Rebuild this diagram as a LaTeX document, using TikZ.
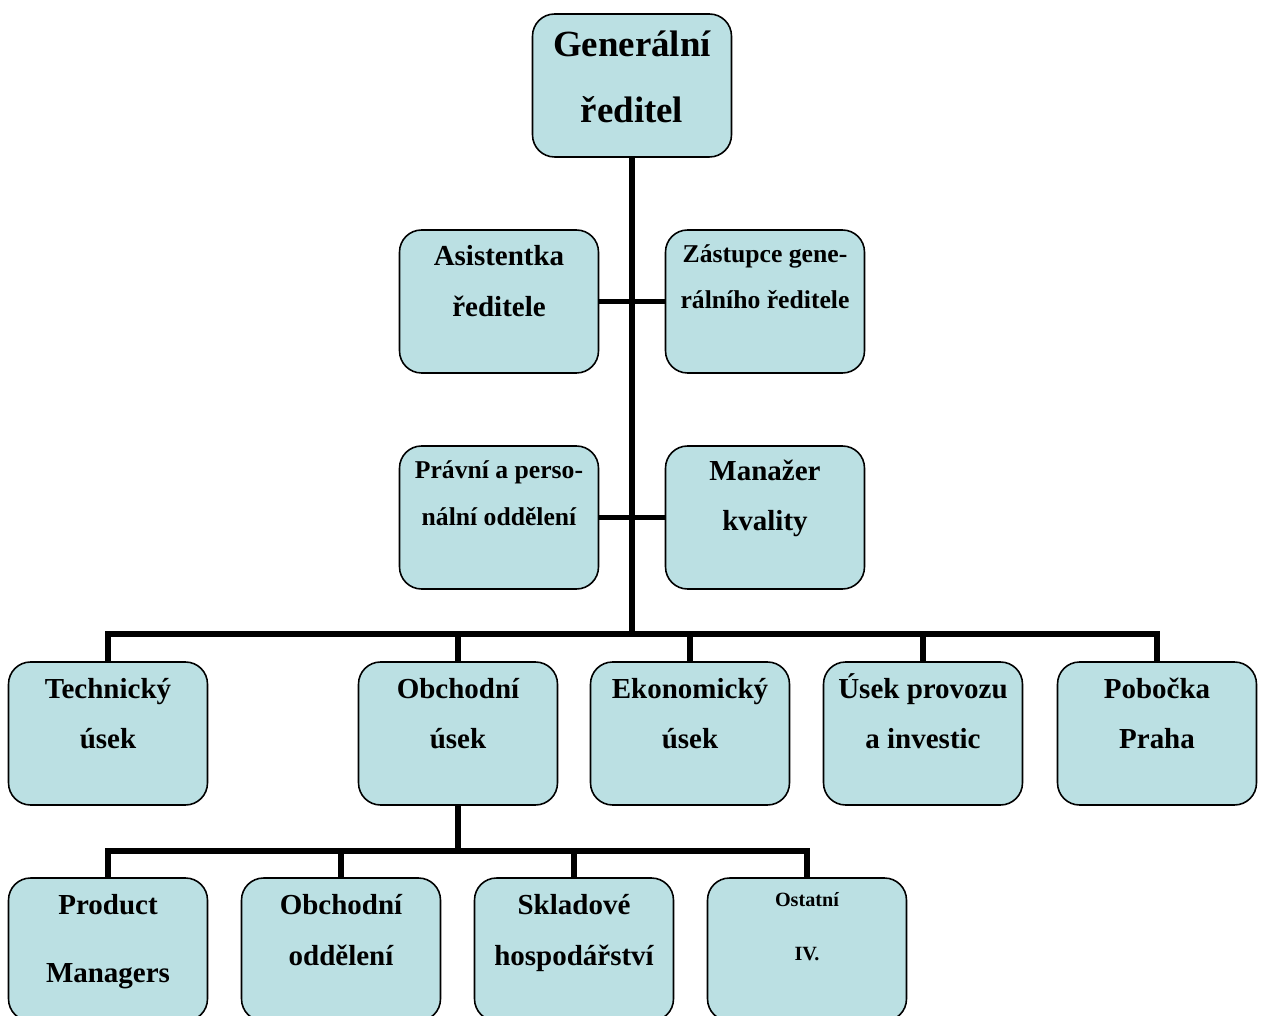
\documentclass[tikz,border=0pt]{standalone}
\usepackage{fontspec}
\setmainfont{Liberation Serif}
\definecolor{boxblue}{HTML}{BBE0E3}
\tikzset{
  unit/.style={draw=black, line width=0.9pt, fill=boxblue, rounded corners=0.44cm, minimum width=3.98cm, minimum height=2.86cm, inner sep=0pt},
  txt/.style={font=\bfseries\fontsize{16.5}{20}\selectfont, inner sep=0pt, anchor=base},
  txtbig/.style={txt, font=\bfseries\fontsize{21}{24}\selectfont},
  txtsmall/.style={txt, font=\bfseries\fontsize{14.6}{18}\selectfont},
  txttiny/.style={txt, font=\bfseries\fontsize{11.5}{14}\selectfont},
  link/.style={line width=3.3pt}
}
\begin{document}
\begin{tikzpicture}[x=0.02cm, y=-0.02cm]
	\useasboundingbox (0,0) rectangle (1261,1016);
	\clip (0,0) rectangle (1261,1016);
	% boxes
	\node[unit] (gen) at (632,85.5) {};
	\node[unit] (asist) at (499,301.5) {}; \node[unit] (zast) at (765,301.5) {};
	\node[unit] (prav) at (499,517.5) {}; \node[unit] (kval) at (765,517.5) {};
	\node[unit] (tech) at (108,733.5) {}; \node[unit] (obch) at (458,733.5) {}; \node[unit] (ekon) at (690,733.5) {};
	\node[unit] (prov) at (923,733.5) {}; \node[unit] (praha) at (1157,733.5) {};
	\node[unit] (prod) at (108,949.5) {}; \node[unit] (odd) at (341,949.5) {}; \node[unit] (sklad) at (574,949.5) {}; \node[unit] (ost) at (807,949.5) {};
	% texts
	\node[txtbig] (genA) at (632,57) {Generální}; \node[txtbig] (genB) at (632,123) {ředitel};
	\node[txt] (asistA) at (499,266) {Asistentka}; \node[txt] (asistB) at (499,317) {ředitele};
	\node[txtsmall] (zastA) at (765,263) {Zástupce gene-}; \node[txtsmall] (zastB) at (765,309) {rálního ředitele};
	\node[txtsmall] (pravA) at (499,479) {Právní a perso-}; \node[txtsmall] (pravB) at (499,526) {nální oddělení};
	\node[txt] (kvalA) at (765,481) {Manažer}; \node[txt] (kvalB) at (765,531) {kvality};
	\node[txt] (techA) at (108,698) {Technický}; \node[txt] (techB) at (108,748) {úsek};
	\node[txt] (obchA) at (458,698) {Obchodní}; \node[txt] (obchB) at (458,748) {úsek};
	\node[txt] (ekonA) at (690,698) {Ekonomický}; \node[txt] (ekonB) at (690,748) {úsek};
	\node[txt] (provA) at (923,698) {Úsek provozu}; \node[txt] (provB) at (923,748) {a investic};
	\node[txt] (prahaA) at (1157,698) {Pobočka}; \node[txt] (prahaB) at (1157,748) {Praha};
	\node[txt] (prodA) at (108,914) {Product}; \node[txt] (prodB) at (108,982) {Managers};
	\node[txt] (oddA) at (341,914) {Obchodní}; \node[txt] (oddB) at (341,965) {oddělení};
	\node[txt] (skladA) at (574,914) {Skladové}; \node[txt] (skladB) at (574,965) {hospodářství};
	\node[txttiny] (ostA) at (807,906) {Ostatní}; \node[txttiny] (ostB) at (807,960) {IV.};
	% connectors
	\coordinate (hub) at (632,634); \coordinate (hubB) at (458,851);
	\draw[link] (gen.south) -- (hub);
	\draw[link] (asist.east) -- (zast.west); \draw[link] (prav.east) -- (kval.west);
	\draw[link] (tech.north) |- (hub) -| (praha.north);
	\draw[link] (obch.north) -- (obch.north |- hub); \draw[link] (ekon.north) -- (ekon.north |- hub); \draw[link] (prov.north) -- (prov.north |- hub);
	\draw[link] (obch.south) -- (hubB);
	\draw[link] (prod.north) |- (hubB) -| (ost.north);
	\draw[link] (odd.north) -- (odd.north |- hubB); \draw[link] (sklad.north) -- (sklad.north |- hubB);
\end{tikzpicture}
\end{document}
